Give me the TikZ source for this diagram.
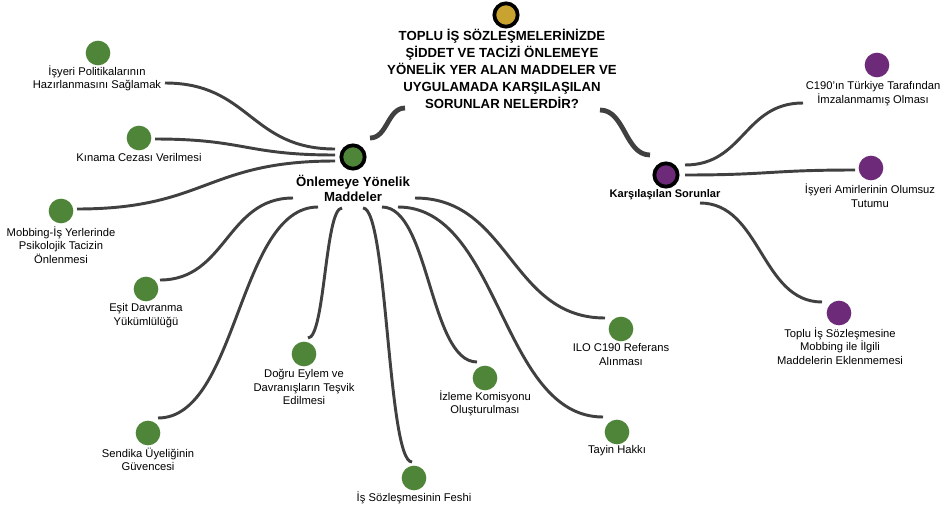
\documentclass[tikz,border=0pt]{standalone}
\usepackage{fontspec}
\setmainfont{Liberation Sans}
\usetikzlibrary{calc}

\definecolor{leafgreen}{HTML}{4E8538}
\definecolor{leafpurple}{HTML}{6C2A78}
\definecolor{topgold}{HTML}{C9A330}
\definecolor{wire}{HTML}{404040}

\tikzset{
  dot/.style={circle, minimum size=18.5pt, inner sep=0pt},
  gdot/.style={dot, fill=leafgreen},
  pdot/.style={dot, fill=leafpurple},
  hubdot/.style={circle, draw=black, line width=2.8pt, minimum size=17.5pt, inner sep=0pt},
  lbl/.style={align=center, inner sep=0pt, font=\fontsize{8.4}{9.9}\selectfont},
  plbl/.style={align=center, inner sep=0pt, font=\fontsize{8.4}{10.8}\selectfont},
  hublbl/.style={align=center, inner sep=0pt, font=\bfseries\fontsize{9.9}{11.5}\selectfont},
  titlelbl/.style={align=center, inner sep=0pt, font=\bfseries\fontsize{9.9}{12.75}\selectfont},
  link/.style={draw=wire, line width=2.2pt},
  trunk/.style={draw=wire, line width=3.6pt},
  hcurve/.style={to path={let \p1=(\tikztostart), \p2=(\tikztotarget) in
      .. controls ({(\x1+\x2)/2},\y1) and ({(\x1+\x2)/2},\y2) .. (\tikztotarget)}}
}

\begin{document}
\begin{tikzpicture}[x=0.75pt, y=-0.75pt]
  \fill[white] (0,0) rectangle (949,511);
  \path[use as bounding box] (0,0) rectangle (949,511);

  % central question
  \node[hubdot, fill=topgold] (top) at (506,15) {};
  \node[titlelbl] (question) at (502,69) {TOPLU İŞ SÖZLEŞMELERİNİZDE\\ŞİDDET VE TACİZİ ÖNLEMEYE\\YÖNELİK YER ALAN MADDELER VE\\UYGULAMADA KARŞILAŞILAN\\SORUNLAR NELERDİR?};

  % main branches
  \node[hubdot, fill=leafgreen] (hubL) at (353,157) {};
  \node[hublbl] (hubLtxt) at (353,188.5) {Önlemeye Yönelik\\Maddeler};
  \node[hubdot, fill=leafpurple] (hubR) at (666,175) {};
  \node[align=center, inner sep=0pt, font=\bfseries\fontsize{8.3}{10}\selectfont] (hubRtxt) at (665,195) {Karşılaşılan Sorunlar};

  % green leaves
  \node[gdot] (g1) at (98,53) {};
  \node[lbl] (g1t) at (97,78.5) {İşyeri Politikalarının\\Hazırlanmasını Sağlamak};
  \node[gdot] (g2) at (139,138) {};
  \node[lbl] (g2t) at (139,157) {Kınama Cezası Verilmesi};
  \node[gdot] (g3) at (61,211) {};
  \node[lbl] (g3t) at (61,245) {Mobbing-İş Yerlerinde\\Psikolojik Tacizin\\Önlenmesi};
  \node[gdot] (g4) at (146,289) {};
  \node[lbl] (g4t) at (146,315.5) {Eşit Davranma\\Yükümlülüğü};
  \node[gdot] (g5) at (148,433) {};
  \node[lbl] (g5t) at (148,459.5) {Sendika Üyeliğinin\\Güvencesi};
  \node[gdot] (g6) at (304,354) {};
  \node[lbl] (g6t) at (304,387) {Doğru Eylem ve\\Davranışların Teşvik\\Edilmesi};
  \node[gdot] (g7) at (414,478) {};
  \node[lbl] (g7t) at (414,498) {İş Sözleşmesinin Feshi};
  \node[gdot] (g8) at (485,378) {};
  \node[lbl] (g8t) at (485,403) {İzleme Komisyonu\\Oluşturulması};
  \node[gdot] (g9) at (621,329) {};
  \node[lbl] (g9t) at (621,354.5) {ILO C190 Referans\\Alınması};
  \node[gdot] (g10) at (617,432) {};
  \node[lbl] (g10t) at (617,451) {Tayin Hakkı};

  % purple leaves
  \node[pdot] (p1) at (877,65) {};
  \node[plbl] (p1t) at (873,93.5) {C190'ın Türkiye Tarafından\\İmzalanmamış Olması};
  \node[pdot] (p2) at (871,168) {};
  \node[plbl] (p2t) at (870,195.5) {İşyeri Amirlerinin Olumsuz\\Tutumu};
  \node[pdot] (p3) at (839,313) {};
  \node[lbl] (p3t) at (840,346) {Toplu İş Sözleşmesine\\Mobbing ile İlgili\\Maddelerin Eklenmemesi};

  % wire end points
  \coordinate (qL) at (405,108);  \coordinate (qR) at (600,110);
  \coordinate (hL0) at (370,138); \coordinate (hR0) at (650,155);
  \coordinate (hL1) at (335,149); \coordinate (e1) at (165,83);
  \coordinate (hL2) at (335,155); \coordinate (e2) at (155,139);
  \coordinate (hL3) at (335,161); \coordinate (e3) at (77,209);
  \coordinate (hL4) at (293,198); \coordinate (e4) at (160,280);
  \coordinate (hL5) at (318,207); \coordinate (e5) at (158,418);
  \coordinate (hL6) at (342,208); \coordinate (e6) at (308,338);
  \coordinate (hL7) at (363,208); \coordinate (e7) at (412,462);
  \coordinate (hL8) at (382,207); \coordinate (e8) at (477,362);
  \coordinate (hL9) at (398,207); \coordinate (e10) at (603,417);
  \coordinate (hL10) at (415,198); \coordinate (e9) at (605,318);
  \coordinate (hR1) at (685,165); \coordinate (f1) at (803,103);
  \coordinate (hR2) at (685,175); \coordinate (f2) at (855,170);
  \coordinate (hR3) at (700,203); \coordinate (f3) at (822,302);

  % trunks from the question
  \draw[trunk] (qL) to[hcurve] (hL0);
  \draw[trunk] (qR) to[hcurve] (hR0);

  % green branches
  \draw[link] (hL1) to[hcurve] (e1);
  \draw[link] (hL2) to[hcurve] (e2);
  \draw[link] (hL3) to[hcurve] (e3);
  \draw[link] (hL4) to[hcurve] (e4);
  \draw[link] (hL5) to[hcurve] (e5);
  \draw[link] (hL6) to[hcurve] (e6);
  \draw[link] (hL7) to[hcurve] (e7);
  \draw[link] (hL8) to[hcurve] (e8);
  \draw[link] (hL9) to[hcurve] (e10);
  \draw[link] (hL10) to[hcurve] (e9);

  % purple branches
  \draw[link] (hR1) to[hcurve] (f1);
  \draw[link] (hR2) to[hcurve] (f2);
  \draw[link] (hR3) to[hcurve] (f3);
\end{tikzpicture}
\end{document}
